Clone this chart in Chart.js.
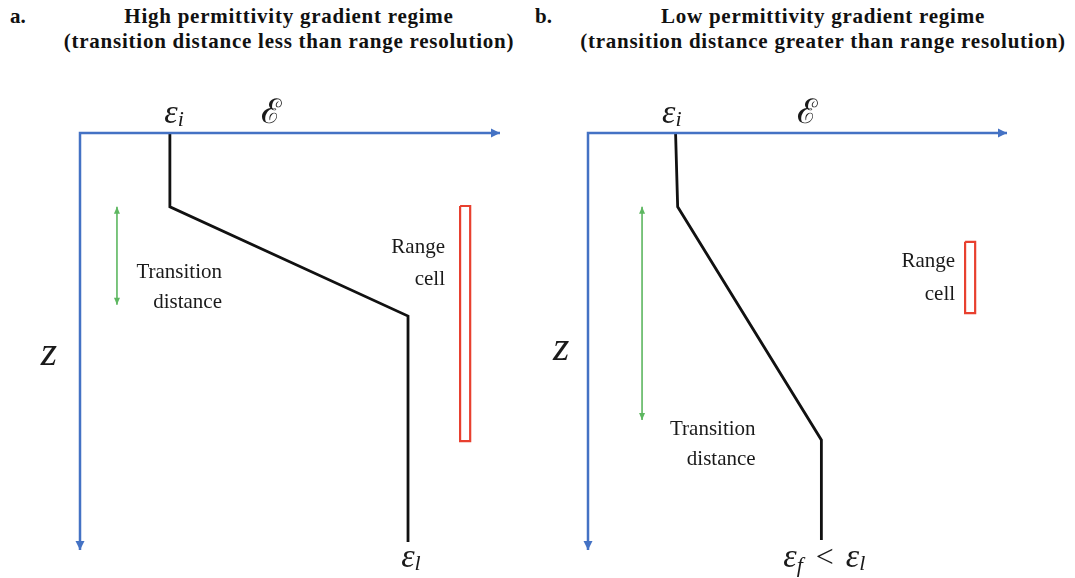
<!DOCTYPE html>
<html>
<head>
<meta charset="utf-8">
<script src="https://cdn.jsdelivr.net/npm/chart.js@4.4.1/dist/chart.umd.min.js"></script>
<style>
  html, body { margin: 0; padding: 0; background: #fff; }
  body { width: 1075px; height: 578px; position: relative; overflow: hidden; font-family: "Liberation Serif", serif; color: #111; }
  canvas { position: absolute; top: 0; }
  .tag { position: absolute; top: 4px; font-weight: bold; font-size: 21px; line-height: 25px; }
  .title { position: absolute; top: 4px; font-weight: bold; font-size: 21px; line-height: 25px; letter-spacing: 0.75px; text-align: center; white-space: nowrap; transform: translateX(-50%); }
</style>
</head>
<body>
<div class="tag" style="left:10px">a.</div>
<div class="title" style="left:289px">High permittivity gradient regime<br>(transition distance less than range resolution)</div>
<div class="tag" style="left:535px">b.</div>
<div class="title" style="left:823px">Low permittivity gradient regime<br>(transition distance greater than range resolution)</div>
<canvas id="panelA" width="508" height="578" style="left:0px"></canvas>
<canvas id="panelB" width="567" height="578" style="left:508px"></canvas>
<script>
// Axes frame: permittivity along x (0-100), depth z downwards (0-100)
const axisEps = [100, 0, 0];
const axisZ   = [0, 0, 100];

// Panel a: sharp transition (permittivity profile vs depth)
const profileEpsA = [21.4, 21.4, 78.1, 78.1];
const profileZA   = [0, 17.7, 43.9, 98.1];
const transitionEpsA = [8.8, 8.8];
const transitionZA   = [17.7, 41.2];
const rangeCellEpsA  = [90.5, 92.9, 92.9, 90.5, 90.5];
const rangeCellZA    = [17.5, 17.5, 73.9, 73.9, 17.5];

// Panel b: gradual transition
const profileEpsB = [20.9, 21.4, 55.7, 55.7];
const profileZB   = [0, 17.7, 73.6, 97.6];
const transitionEpsB = [12.9, 12.9];
const transitionZB   = [17.7, 68.8];
const rangeCellEpsB  = [90.0, 92.4, 92.4, 90.0, 90.0];
const rangeCellZB    = [26.1, 26.1, 43.2, 43.2, 26.1];

const BLUE = '#4472C4', BLACK = '#111111', RED = '#E8402F', GREEN = '#5DB760';
const TEXT_FONT = '"Liberation Serif", serif';

function pts(xs, zs) { return xs.map((x, i) => ({ x: x, y: zs[i] })); }

function lineSet(xs, zs, color, width, arrows) {
  return {
    data: pts(xs, zs), showLine: true, borderColor: color, backgroundColor: color,
    borderWidth: width, pointRadius: 0, tension: 0, clip: false, fill: false,
    borderJoinStyle: 'miter', arrows: arrows || null
  };
}

// Arrowheads at the ends of datasets that ask for them
const arrowPlugin = {
  id: 'arrowHeads',
  afterDatasetsDraw(chart) {
    const ctx = chart.ctx;
    chart.data.datasets.forEach((ds, di) => {
      if (!ds.arrows) return;
      const p = chart.getDatasetMeta(di).data;
      const n = p.length;
      const head = (tip, from, len, half) => {
        const a = Math.atan2(tip.y - from.y, tip.x - from.x);
        ctx.save();
        ctx.translate(tip.x, tip.y);
        ctx.rotate(a);
        ctx.beginPath();
        ctx.moveTo(0, 0);
        ctx.lineTo(-len, -half);
        ctx.lineTo(-len, half);
        ctx.closePath();
        ctx.fillStyle = ds.borderColor;
        ctx.fill();
        ctx.restore();
      };
      const o = ds.arrows;
      if (o.start) head(p[0], p[1], o.len, o.half);
      if (o.end) head(p[n - 1], p[n - 2], o.len, o.half);
    });
  }
};

// Text labels placed in data coordinates; each label is a run of styled pieces
const labelPlugin = {
  id: 'panelLabels',
  afterDraw(chart) {
    const labels = chart.options.plugins.panelLabels.items;
    const ctx = chart.ctx;
    const xs = chart.scales.x, ys = chart.scales.y;
    labels.forEach(l => {
      const px = xs.getPixelForValue(l.x);
      const py = ys.getPixelForValue(l.z);
      let total = 0;
      l.runs.forEach(r => { ctx.font = r.font; r.w = ctx.measureText(r.t).width + (r.gap || 0); total += r.w; });
      let x0 = l.align === 'right' ? px - total : (l.align === 'left' ? px : px - total / 2);
      ctx.save();
      ctx.fillStyle = l.color || '#1a1a1a';
      ctx.textBaseline = 'alphabetic';
      ctx.textAlign = 'left';
      l.runs.forEach(r => {
        ctx.font = r.font;
        ctx.fillText(r.t, x0 + (r.pre || 0), py + (r.dy || 0));
        x0 += r.w;
      });
      ctx.restore();
    });
  }
};

const mathEps = 'italic 34px ' + TEXT_FONT;
const mathSub = 'italic 22px ' + TEXT_FONT;
const scriptE = '34px "DejaVu Serif", serif';
const mathZ = 'italic 42px ' + TEXT_FONT;
const bodyFont = '21px ' + TEXT_FONT;

function txt(s, x, z, align) { return { x: x, z: z, align: align, runs: [{ t: s, font: bodyFont }] }; }

const labelsA = [
  { x: 22.4, z: -2.4, align: 'center', runs: [{ t: 'ε', font: mathEps }, { t: 'i', font: mathSub, dy: 3 }] },
  { x: 45.5, z: -2.4, align: 'center', runs: [{ t: 'ℰ', font: scriptE }] },
  { x: -7.4, z: 55.6, align: 'center', runs: [{ t: 'z', font: mathZ }] },
  { x: 78.8, z: 104, align: 'center', runs: [{ t: 'ε', font: mathEps }, { t: 'l', font: mathSub, dy: 3 }] },
  txt('Transition', 33.8, 34.8, 'right'),
  txt('distance', 33.8, 42.0, 'right'),
  txt('Range', 86.9, 28.8, 'right'),
  txt('cell', 86.9, 36.5, 'right')
];

const labelsB = [
  { x: 20.0, z: -2.4, align: 'center', runs: [{ t: 'ε', font: mathEps }, { t: 'i', font: mathSub, dy: 3 }] },
  { x: 52.4, z: -2.4, align: 'center', runs: [{ t: 'ℰ', font: scriptE }] },
  { x: -6.4, z: 54.4, align: 'center', runs: [{ t: 'z', font: mathZ }] },
  { x: 56.4, z: 104, align: 'center', runs: [
      { t: 'ε', font: mathEps }, { t: 'f', font: mathSub, dy: 5, gap: 13 },
      { t: '<', font: '32px ' + TEXT_FONT, gap: 12 },
      { t: 'ε', font: mathEps }, { t: 'l', font: mathSub, dy: 3 }] },
  txt('Transition', 40.0, 72.4, 'right'),
  txt('distance', 40.0, 79.6, 'right'),
  txt('Range', 87.6, 32.1, 'right'),
  txt('cell', 87.6, 40.0, 'right')
];

function makePanel(id, rightPad, profEps, profZ, trEps, trZ, cellEps, cellZ, labels) {
  return new Chart(document.getElementById(id), {
    type: 'scatter',
    data: {
      datasets: [
        lineSet(axisEps, axisZ, BLUE, 2.5, { start: true, end: true, len: 9, half: 4.5 }),
        lineSet(cellEps, cellZ, RED, 2.2),
        lineSet(trEps, trZ, GREEN, 1.6, { start: true, end: true, len: 7, half: 3 }),
        lineSet(profEps, profZ, BLACK, 2.8)
      ]
    },
    options: {
      responsive: false, animation: false, events: [],
      layout: { padding: { left: 80, top: 133, right: rightPad, bottom: 28 } },
      plugins: { legend: { display: false }, tooltip: { enabled: false }, panelLabels: { items: labels } },
      scales: {
        x: { type: 'linear', min: 0, max: 100, display: false },
        y: { type: 'linear', min: 0, max: 100, reverse: true, display: false }
      }
    },
    plugins: [arrowPlugin, labelPlugin]
  });
}

// Make sure the serif faces are ready before drawing text onto the canvases
const faces = [bodyFont, mathEps, mathSub, mathZ, scriptE, '32px ' + TEXT_FONT];
Promise.all(faces.map(f => document.fonts.load(f, 'Transitionεℰz<')))
  .catch(() => null)
  .then(() => {
    makePanel('panelA', 8, profileEpsA, profileZA, transitionEpsA, transitionZA, rangeCellEpsA, rangeCellZA, labelsA);
    makePanel('panelB', 68, profileEpsB, profileZB, transitionEpsB, transitionZB, rangeCellEpsB, rangeCellZB, labelsB);
  });
</script>
</body>
</html>
